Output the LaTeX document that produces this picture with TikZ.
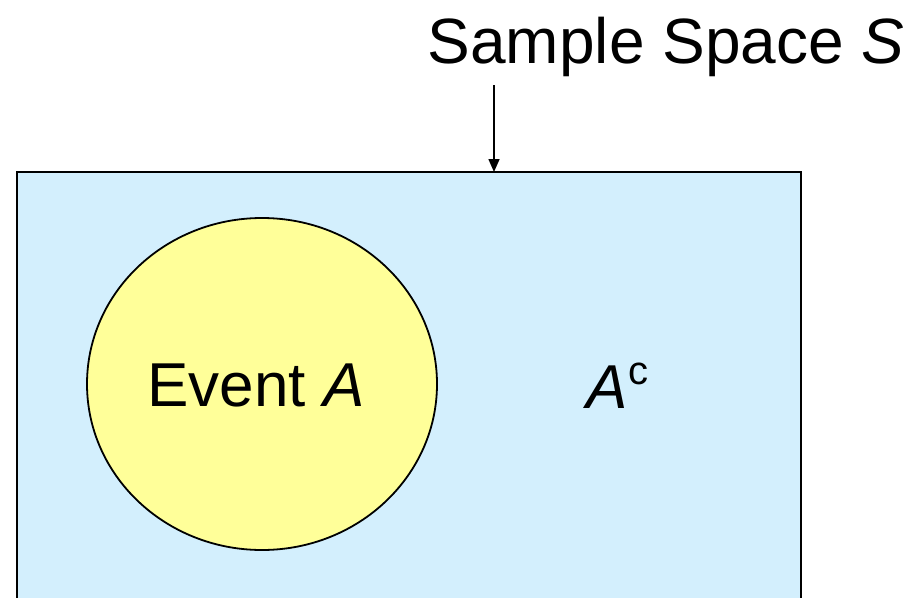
\documentclass[tikz,border=0pt]{standalone}
\usepackage{fontspec}
\setmainfont{Liberation Sans}
\usetikzlibrary{arrows.meta}
\definecolor{spaceblue}{HTML}{D3EFFD}
\definecolor{eventyellow}{HTML}{FFFF99}
\tikzset{
  label text/.style={inner sep=0pt, font=\fontsize{62}{74}\selectfont},
  outline/.style={draw=black, line width=1.8pt}
}
\newcommand{\compsup}[1]{\raisebox{24pt}{\fontsize{40}{48}\selectfont #1}}
\begin{document}
\begin{tikzpicture}[x=1pt, y=-1pt]
\useasboundingbox (0,0) rectangle (912,597);
\begin{scope}
  \clip (0,0) rectangle (912,597);
  % sample space
  \draw[outline, fill=spaceblue] (17,172) rectangle (801,640);
  \coordinate (S) at (494,172);
  % event A
  \draw[outline, fill=eventyellow] (262,384) ellipse [x radius=175, y radius=166];
\end{scope}
\node[label text, anchor=base] (ev) at (256,406) {Event \textit{A}};
\node[label text, anchor=base west] (ac) at (586,408) {\textit{A}\kern1pt\compsup{c}};
\node[label text, anchor=base, font=\fontsize{64}{76}\selectfont] (title) at (666,63) {Sample Space \textit{S}};
\coordinate (top) at (494,85);
\draw[line width=1.6pt, -{Triangle[length=13pt, width=11pt]}] (top) -- (S);
\end{tikzpicture}
\end{document}
